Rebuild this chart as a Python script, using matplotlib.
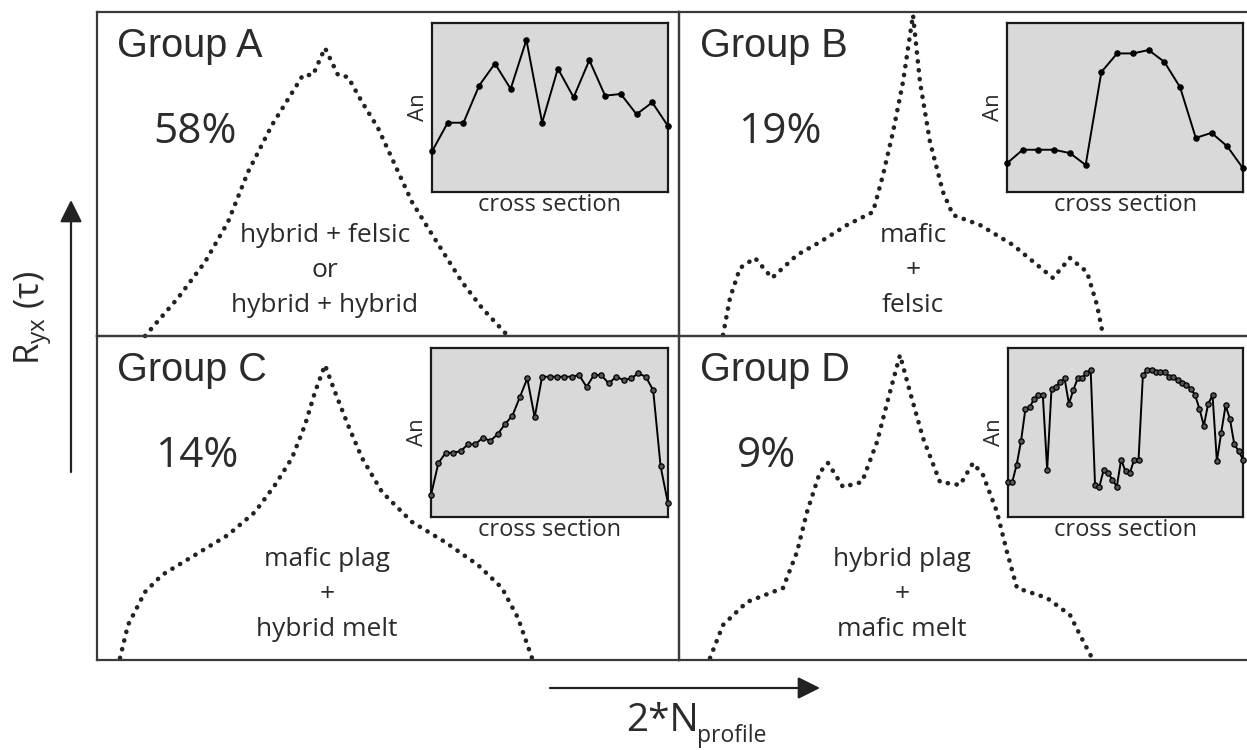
import numpy as np
import matplotlib
matplotlib.use("Agg")
import matplotlib.pyplot as plt
from matplotlib.patches import FancyArrowPatch

W, H = 1247, 750

# dotted R_yx curves, panel units (x from panel left, y from panel bottom, px)
curve_a_x = [48, 81, 108, 131, 151, 175, 198, 206, 216, 228, 241, 251, 265, 281, 298, 315, 331, 348, 365, 385, 411]
curve_a_y = [0, 38, 74, 114, 164, 211, 248, 261, 261, 288, 261, 259, 234, 208, 171, 134, 108, 81, 54, 28, 0]
curve_b_x = [44, 51, 61, 76, 93, 118, 141, 168, 194, 204, 214, 224, 231, 234, 241, 251, 264, 274, 301, 334, 374, 391, 408, 418, 424]
curve_b_y = [1, 38, 68, 78, 58, 81, 94, 111, 124, 161, 204, 254, 301, 321, 254, 194, 144, 121, 111, 91, 58, 78, 64, 31, 1]
curve_c_x = [23, 31, 48, 65, 98, 131, 158, 178, 195, 208, 218, 228, 238, 251, 265, 285, 315, 348, 381, 405, 421, 435]
curve_c_y = [2, 35, 68, 85, 105, 125, 148, 175, 202, 235, 268, 295, 268, 235, 202, 168, 138, 118, 95, 72, 42, 2]
curve_d_x = [31, 44, 68, 104, 118, 128, 141, 149, 164, 183, 198, 211, 221, 231, 244, 261, 281, 294, 304, 318, 328, 338, 368, 391, 401, 413]
curve_d_y = [2, 35, 58, 72, 108, 148, 188, 197, 173, 178, 218, 268, 305, 268, 222, 178, 175, 197, 185, 148, 108, 72, 62, 45, 25, 2]

# An profiles across the crystal (relative scale 0-100)
an_a = [24, 41, 41, 63, 76, 61, 90, 41, 73, 56, 78, 57, 58, 46, 53, 39]
an_b = [17, 25, 25, 25, 23, 16, 71, 82, 82, 84, 77, 62, 32, 35, 27, 14]
an_c = [13, 32, 38, 38, 39, 43, 43, 47, 45, 49, 55, 60, 71, 82, 59, 83, 83, 83, 83, 83,
        84, 77, 84, 84, 79, 83, 81, 82, 85, 83, 75, 30, 8]
an_d = [21, 21, 31, 45, 64, 65, 70, 72, 72, 28, 76, 77, 80, 82, 67, 75, 82, 82, 85, 87,
        19, 18, 28, 26, 22, 18, 34, 27, 26, 34, 34, 84, 87, 87, 86, 86, 86, 83, 83, 81,
        79, 78, 76, 72, 64, 54, 67, 72, 33, 50, 66, 58, 43, 39, 34]

groups = ["Group A", "Group B", "Group C", "Group D"]
shares = ["58%", "19%", "14%", "9%"]
mixes = [["hybrid + felsic", "or", "hybrid + hybrid"],
         ["mafic", "+", "felsic"],
         ["mafic plag", "+", "hybrid melt"],
         ["hybrid plag", "+", "mafic melt"]]

TXT = "#2b2b2b"
FRAME = "#3a3a3a"
SANS = ["Open Sans", "DejaVu Sans"]
HELV = ["Liberation Sans", "DejaVu Sans"]


def fig_rect(x0, y0, x1, y1):
    return [x0 / W, 1 - y1 / H, (x1 - x0) / W, (y1 - y0) / H]


fig = plt.figure(figsize=(W / 100, H / 100), dpi=100)

panels = [(97, 12, 679, 336), (679, 12, 1252, 336),
          (97, 336, 679, 660), (679, 336, 1252, 660)]
curves = [(curve_a_x, curve_a_y), (curve_b_x, curve_b_y),
          (curve_c_x, curve_c_y), (curve_d_x, curve_d_y)]
text_pos = [  # group label x, share x, mix centre x
    (20, 56, 228), (21, 59, 234), (20, 58, 230), (21, 58, 223)]

for i, (x0, y0, x1, y1) in enumerate(panels):
    ax = fig.add_axes(fig_rect(x0, y0, x1, y1))
    ax.set_xlim(0, x1 - x0)
    ax.set_ylim(0, y1 - y0)
    ax.set_xticks([])
    ax.set_yticks([])
    for s in ax.spines.values():
        s.set_color(FRAME)
        s.set_linewidth(1.6)
    ax.patch.set_alpha(0)
    cx, cy = curves[i]
    ax.plot(cx, cy, color="#222222", lw=3.3, linestyle=(0, (0.05, 1.9)),
            dash_capstyle="round", clip_on=False)
    gx, px, mx = text_pos[i]
    ax.text(gx, 279, groups[i], fontsize=28.5, family=HELV, color=TXT, va="baseline")
    ax.text(px, 193, shares[i], fontsize=30.5, family=SANS, color=TXT, va="baseline")
    for line, by in zip(mixes[i], [94, 59, 24]):
        ax.text(mx, by, line, fontsize=19, family=SANS, color=TXT,
                ha="center", va="baseline")

insets = [(432, 23, 668, 192, an_a, "black"), (1007, 23, 1243, 192, an_b, "black"),
          (431, 348, 668, 517, an_c, "#555555"), (1008, 348, 1243, 517, an_d, "#555555")]
for x0, y0, x1, y1, an, mfc in insets:
    ia = fig.add_axes(fig_rect(x0, y0, x1, y1))
    ia.set_facecolor("#d9d9d9")
    pos = np.arange(len(an))
    ia.plot(pos, an, color="black", lw=1.4, marker="o", ms=3.8,
            mfc=mfc, mec="black", mew=0.9, clip_on=False, zorder=3)
    ia.set_xlim(0, len(an) - 1)
    ia.set_ylim(0, 100)
    ia.set_xticks([])
    ia.set_yticks([])
    for s in ia.spines.values():
        s.set_linewidth(1.6)
        s.set_color("#1a1a1a")
    ia.set_ylabel("An", fontsize=16, family=SANS, color=TXT, labelpad=2)
    ia.set_xlabel("cross section", fontsize=17, family=SANS, color=TXT, labelpad=1)

# axis arrows and titles
oa = fig.add_axes([0, 0, 1, 1])
oa.set_xlim(0, W)
oa.set_ylim(H, 0)
oa.axis("off")
oa.patch.set_alpha(0)
for start, end in [((71, 472), (71, 200)), ((550, 688), (820, 688))]:
    oa.add_patch(FancyArrowPatch(start, end, arrowstyle="-|>,head_length=0.9,head_width=0.45",
                                 mutation_scale=15, color="#222222", lw=1.6,
                                 shrinkA=0, shrinkB=0))
oa.text(33, 318, "R$_{\\mathregular{yx}}$ (\u03c4)", fontsize=25, family=SANS, color=TXT,
        rotation=90, ha="center", va="center")
oa.text(626, 731, "2*N", fontsize=28, family=SANS, color=TXT, ha="left", va="baseline")
oa.text(697, 742, "profile", fontsize=16.5, family=SANS, color=TXT, ha="left", va="baseline")

fig.savefig("out.png", dpi=100)
